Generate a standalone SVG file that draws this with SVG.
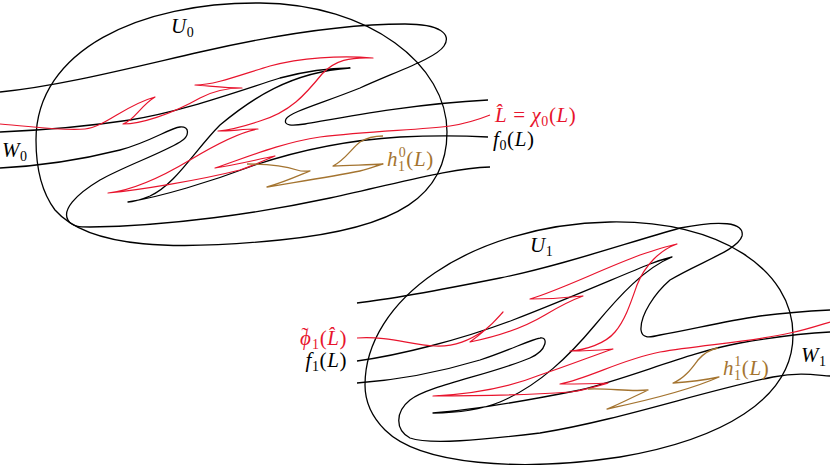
<svg xmlns="http://www.w3.org/2000/svg" width="830" height="465" viewBox="0 0 830 465">
<style>
.k{fill:none;stroke:#000;stroke-width:1.3;stroke-linejoin:round}
.r{fill:none;stroke:#e8142d;stroke-width:1.2;stroke-linejoin:round}
.b{fill:none;stroke:#a47430;stroke-width:1.3;stroke-linejoin:round}
text{font-family:"Liberation Serif","DejaVu Serif",serif;font-size:21px;letter-spacing:0.6px}
.i{font-style:italic}
.s{font-size:14px}
.tr{fill:#e8142d}
.tb{fill:#a47430}
</style>
<rect width="830" height="465" fill="#fff"/>
<g id="U0">
<path class="k" d="M36,140 C36,50 140,2 260,3 C370,4 447,65 447,132 C447,195 400,228 280,240 C180,250 90,250 55,210 C40,190 36,165 36,140Z"/>
<text x="171" y="33"><tspan class="i">U</tspan><tspan class="s" dy="4">0</tspan></text>
</g>
<g id="U1">
<path class="k" d="M365,385 C365,300 470,225 610,222 C720,220 793,270 793,335 C793,400 720,440 620,457 C520,472 420,465 385,430 C370,415 365,400 365,385Z"/>
<text x="530" y="252"><tspan class="i">U</tspan><tspan class="s" dy="4">1</tspan></text>
</g>
<g id="connectors">
<path class="k" d="M0,92 C60,86 130,68 200,52 C270,36 340,24 405,24 C440,24 452,34 444,46 C436,58 400,70 360,88 C320,104 290,112 286,119 C283,126 292,126 305,124 C340,118 410,104 488,100"/>
<path class="k" d="M0,132 C50,130 90,126 130,120 C180,112 230,94 280,78 C310,70 335,68 350,68 C290,72 250,100 220,125 C195,150 175,185 150,196 C140,200 133,202 128,202 C160,197 210,182 255,165 C300,150 350,140 400,137 C440,135 470,136 488,137"/>
<path class="k" d="M0,168 C40,166 80,160 120,150 C150,142 170,128 180,127 C190,126 190,136 180,142 C160,154 125,166 100,180 C75,195 62,210 68,220 C72,227 80,227 90,227 C170,226 260,213 330,198 C400,183 450,168 490,167"/>
<path class="r" d="M0,124 C30,126 60,131 85,129 C105,127 125,105 155,97 C140,106 135,120 123,124 C140,124 170,115 200,98 C215,90 230,88 242,88 C225,88 210,86 195,85 C215,85 240,75 270,66 C300,58 340,55 373,58 C350,57 335,60 322,74 C305,95 290,112 260,121 C245,126 230,130 218,131 C230,131 245,129 258,129 C240,132 215,145 190,160 C165,175 135,190 108,193 C140,190 200,180 240,170 C255,165 265,160 275,156 C255,160 235,165 215,168 C245,158 280,143 320,137 C370,131 420,130 450,126 C470,123 480,119 490,115"/>
<path class="b" d="M247,164 C265,164 285,166 297,170 C303,172 307,171 310,171 C300,175 285,182 267,187 C290,183 330,177 360,171 C370,169 378,165 383,164 C370,165 350,165 333,166 C345,160 352,148 360,142 C368,137 375,136 383,136"/>
<path class="k" d="M357,303 C400,298 450,288 500,278 C560,266 620,245 680,228 C720,220 745,222 742,236 C738,250 700,262 670,280 C655,293 640,315 641,330 C642,338 648,338 660,335 C690,330 720,322 760,316 C790,312 810,311 830,310"/>
<path class="k" d="M357,361 C400,355 460,340 513,320 C570,298 620,276 650,264 C660,260 668,258 672,257 C645,268 620,295 595,325 C570,355 540,385 500,402 C480,410 455,413 433,413 C470,410 530,400 580,390 C630,378 690,352 740,343 C780,336 810,333 830,332"/>
<path class="k" d="M357,383 C400,380 440,372 480,360 C510,350 530,340 540,338 C548,336 548,350 530,358 C490,375 430,385 410,400 C395,412 395,430 410,438 C430,445 480,440 540,433 C620,420 700,392 773,377 C800,372 815,375 830,376"/>
<path class="r" d="M357,338 C390,336 410,345 435,346 C455,347 470,340 485,330 C495,322 500,315 503,312 C495,322 480,335 470,342 C490,338 520,330 545,315 C560,306 572,300 583,296 C565,298 545,299 530,299 C560,290 600,270 640,255 C655,250 668,246 677,244 C660,250 645,265 637,285 C630,305 625,320 615,332 C605,344 585,350 570,351 C585,351 600,350 613,349 C595,355 570,365 540,375 C510,387 470,394 433,396 C480,396 540,394 570,392 C585,390 598,386 608,383 C590,384 575,384 560,384 C590,378 620,360 660,352 C700,345 750,342 790,333 C805,330 820,325 830,322"/>
<path class="b" d="M588,389 C610,388 630,392 648,390 C635,396 620,404 607,409 C640,402 690,390 719,377 C705,380 690,382 673,383 C685,378 692,368 698,360 C705,352 712,349 718,348"/>
</g>
<g id="W0"><text x="2" y="157"><tspan class="i">W</tspan><tspan class="s" dy="4">0</tspan></text></g>
<g id="W1"><text x="801" y="362"><tspan class="i">W</tspan><tspan class="s" dy="4">1</tspan></text></g>
<g id="Lhat"><text x="495" y="122" class="tr"><tspan class="i">L̂</tspan> = <tspan class="i">χ</tspan><tspan class="s" dy="4">0</tspan><tspan dy="-4">(</tspan><tspan class="i">L</tspan>)</text></g>
<g id="f0"><text x="493" y="146"><tspan class="i">f</tspan><tspan class="s" dy="4">0</tspan><tspan dy="-4">(</tspan><tspan class="i">L</tspan>)</text></g>
<g id="h0"><text x="387" y="166" class="tb"><tspan class="i">h</tspan><tspan class="s" font-size="13" dy="5">1</tspan><tspan class="s" font-size="13" dx="-7" dy="-14">0</tspan><tspan dy="9">(</tspan><tspan class="i">L</tspan>)</text></g>
<g id="phi1"><text x="300" y="345" class="tr"><tspan class="i">ϕ</tspan><tspan dx="-10" dy="-3">˜</tspan><tspan class="s" dx="3" dy="7">1</tspan><tspan dy="-4">(</tspan><tspan class="i">L̂</tspan>)</text></g>
<g id="f1"><text x="347" y="367" text-anchor="end"><tspan class="i">f</tspan><tspan class="s" dy="4">1</tspan><tspan dy="-4">(</tspan><tspan class="i">L</tspan>)</text></g>
<g id="h1"><text x="723" y="375" class="tb"><tspan class="i">h</tspan><tspan class="s" font-size="13" dy="5">1</tspan><tspan class="s" font-size="13" dx="-7" dy="-14">1</tspan><tspan dy="9">(</tspan><tspan class="i">L</tspan>)</text></g>
</svg>
